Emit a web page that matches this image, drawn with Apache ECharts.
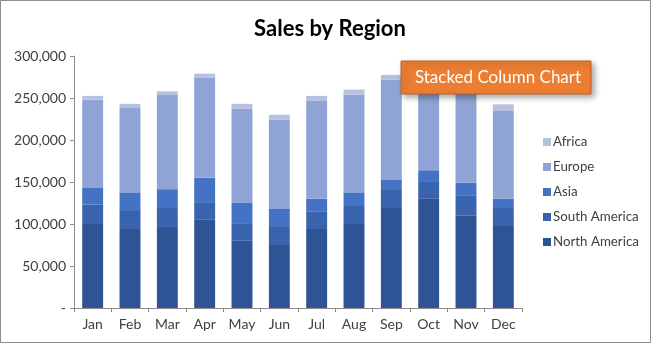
<!DOCTYPE html>
<html>
<head>
<meta charset="utf-8">
<script src="https://cdn.jsdelivr.net/npm/echarts@6/dist/echarts.min.js"></script>
<style>
  html, body { margin: 0; padding: 0; background: #fff; }
  #chart { width: 652px; height: 344px; }
</style>
</head>
<body>
<div id="chart"></div>
<script>
// Monthly sales, stacked by region
const months = ['Jan', 'Feb', 'Mar', 'Apr', 'May', 'Jun', 'Jul', 'Aug', 'Sep', 'Oct', 'Nov', 'Dec'];
const northAmerica = [100000, 94000, 96500, 105000, 80000, 75000, 94000, 100000, 119000, 130000, 110000, 97500];
const southAmerica = [23000, 21500, 22500, 21000, 21000, 22500, 20500, 22500, 21500, 21000, 23500, 21500];
const asia = [20000, 21500, 22500, 29000, 24000, 20500, 15500, 14500, 12000, 13000, 15500, 11000];
const europe = [105000, 101000, 112000, 119000, 112000, 106000, 116500, 117000, 119000, 110000, 113000, 104500];
const africa = [4500, 5000, 4500, 5000, 6000, 6000, 6000, 6000, 6000, 5000, 5000, 8000];
const yTicks = [0, 50000, 100000, 150000, 200000, 250000, 300000];

const FONT = 'Lato, "Liberation Sans", sans-serif';

const seriesDefs = [
  { name: 'North America', data: northAmerica, color: '#2F5495' },
  { name: 'South America', data: southAmerica, color: '#3963AD' },
  { name: 'Asia', data: asia, color: '#4472C4' },
  { name: 'Europe', data: europe, color: '#8FA4D4' },
  { name: 'Africa', data: africa, color: '#B6C1E2' }
];

const chart = echarts.init(document.getElementById('chart'), null, { renderer: 'canvas' });

chart.setOption({
  animation: false,
  backgroundColor: '#ffffff',
  textStyle: { fontFamily: FONT },
  title: {
    text: 'Sales by Region',
    left: 325,
    textAlign: 'center',
    top: 13,
    textStyle: { fontFamily: FONT, fontSize: 22, fontWeight: 'bold', color: '#000000' }
  },
  legend: {
    orient: 'vertical',
    left: 538,
    top: 130,
    data: ['Africa', 'Europe', 'Asia', 'South America', 'North America'],
    icon: 'rect',
    itemWidth: 8,
    itemHeight: 8,
    itemGap: 11,
    textStyle: { fontFamily: FONT, fontSize: 13.3, color: '#404040', lineHeight: 14, padding: [0, 0, 0, -3] }
  },
  grid: { left: 74, right: 130, top: 56, bottom: 36, containLabel: false },
  xAxis: {
    type: 'category',
    data: months,
    axisLine: { lineStyle: { color: '#8C8C8C', width: 1 } },
    axisTick: { show: true, length: 4, alignWithLabel: false, lineStyle: { color: '#8C8C8C' } },
    axisLabel: { color: '#404040', fontSize: 14, fontFamily: FONT, margin: 9 }
  },
  yAxis: {
    type: 'value',
    min: yTicks[0],
    max: yTicks[yTicks.length - 1],
    interval: yTicks[1] - yTicks[0],
    axisLine: { show: true, lineStyle: { color: '#8C8C8C', width: 1 } },
    axisTick: { show: true, length: 4, lineStyle: { color: '#8C8C8C' } },
    splitLine: { show: false },
    axisLabel: {
      color: '#404040',
      fontSize: 14,
      fontFamily: FONT,
      margin: 8,
      formatter: v => v === 0 ? '-' : v.toLocaleString('en-US')
    }
  },
  series: seriesDefs.map(s => ({
    name: s.name,
    type: 'bar',
    stack: 'sales',
    data: s.data,
    barCategoryGap: '44%',
    itemStyle: { color: s.color },
    emphasis: { disabled: true }
  })),
  graphic: [
    {
      type: 'rect',
      z: 100,
      shape: { x: 401, y: 61, width: 190, height: 33 },
      style: {
        fill: '#ED7D31',
        stroke: '#C0612A',
        lineWidth: 1,
        shadowBlur: 6,
        shadowOffsetX: 3,
        shadowOffsetY: 3,
        shadowColor: 'rgba(0,0,0,0.35)'
      }
    },
    {
      type: 'text',
      z: 101,
      x: 498,
      y: 78,
      style: {
        text: 'Stacked Column Chart',
        fill: '#ffffff',
        font: '17px ' + FONT,
        textAlign: 'center',
        textVerticalAlign: 'middle'
      }
    },
    {
      type: 'rect',
      z: 100,
      silent: true,
      shape: { x: 0.5, y: 0.5, width: 650, height: 342 },
      style: { fill: 'none', stroke: '#8C8C8C', lineWidth: 1 }
    }
  ]
});
</script>
</body>
</html>
